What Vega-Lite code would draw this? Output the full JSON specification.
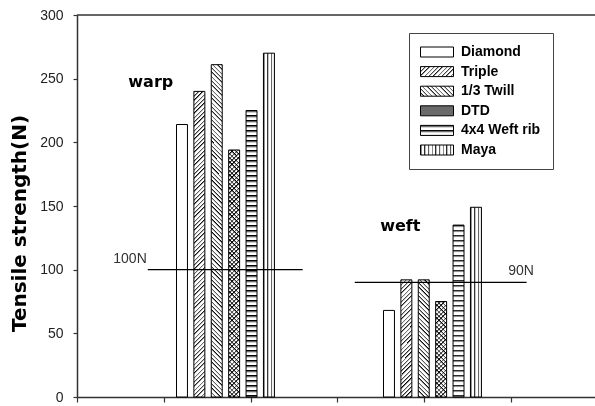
{
  "$schema": "https://vega.github.io/schema/vega-lite/v6.json",
  "width": 518,
  "height": 382,
  "autosize": {"type": "none"},
  "padding": {"left": 77, "top": 15, "right": 0, "bottom": 9},
  "background": "#ffffff",
  "config": {"view": {"stroke": null}, "font": "Liberation Sans"},
  "params": [
    {"name": "S", "value": [
{"offset":0,"color":"#000"},{"offset":0.00625,"color":"#fff"},{"offset":0.0125,"color":"#fff"},
{"offset":0.0125,"color":"#000"},{"offset":0.01875,"color":"#fff"},{"offset":0.025,"color":"#fff"},
{"offset":0.025,"color":"#000"},{"offset":0.03125,"color":"#fff"},{"offset":0.0375,"color":"#fff"},
{"offset":0.0375,"color":"#000"},{"offset":0.04375,"color":"#fff"},{"offset":0.05,"color":"#fff"},
{"offset":0.05,"color":"#000"},{"offset":0.05625,"color":"#fff"},{"offset":0.0625,"color":"#fff"},
{"offset":0.0625,"color":"#000"},{"offset":0.06875,"color":"#fff"},{"offset":0.075,"color":"#fff"},
{"offset":0.075,"color":"#000"},{"offset":0.08125,"color":"#fff"},{"offset":0.0875,"color":"#fff"},
{"offset":0.0875,"color":"#000"},{"offset":0.09375,"color":"#fff"},{"offset":0.1,"color":"#fff"},
{"offset":0.1,"color":"#000"},{"offset":0.10625,"color":"#fff"},{"offset":0.1125,"color":"#fff"},
{"offset":0.1125,"color":"#000"},{"offset":0.11875,"color":"#fff"},{"offset":0.125,"color":"#fff"},
{"offset":0.125,"color":"#000"},{"offset":0.13125,"color":"#fff"},{"offset":0.1375,"color":"#fff"},
{"offset":0.1375,"color":"#000"},{"offset":0.14375,"color":"#fff"},{"offset":0.15,"color":"#fff"},
{"offset":0.15,"color":"#000"},{"offset":0.15625,"color":"#fff"},{"offset":0.1625,"color":"#fff"},
{"offset":0.1625,"color":"#000"},{"offset":0.16875,"color":"#fff"},{"offset":0.175,"color":"#fff"},
{"offset":0.175,"color":"#000"},{"offset":0.18125,"color":"#fff"},{"offset":0.1875,"color":"#fff"},
{"offset":0.1875,"color":"#000"},{"offset":0.19375,"color":"#fff"},{"offset":0.2,"color":"#fff"},
{"offset":0.2,"color":"#000"},{"offset":0.20625,"color":"#fff"},{"offset":0.2125,"color":"#fff"},
{"offset":0.2125,"color":"#000"},{"offset":0.21875,"color":"#fff"},{"offset":0.225,"color":"#fff"},
{"offset":0.225,"color":"#000"},{"offset":0.23125,"color":"#fff"},{"offset":0.2375,"color":"#fff"},
{"offset":0.2375,"color":"#000"},{"offset":0.24375,"color":"#fff"},{"offset":0.25,"color":"#fff"},
{"offset":0.25,"color":"#000"},{"offset":0.25625,"color":"#fff"},{"offset":0.2625,"color":"#fff"},
{"offset":0.2625,"color":"#000"},{"offset":0.26875,"color":"#fff"},{"offset":0.275,"color":"#fff"},
{"offset":0.275,"color":"#000"},{"offset":0.28125,"color":"#fff"},{"offset":0.2875,"color":"#fff"},
{"offset":0.2875,"color":"#000"},{"offset":0.29375,"color":"#fff"},{"offset":0.3,"color":"#fff"},
{"offset":0.3,"color":"#000"},{"offset":0.30625,"color":"#fff"},{"offset":0.3125,"color":"#fff"},
{"offset":0.3125,"color":"#000"},{"offset":0.31875,"color":"#fff"},{"offset":0.325,"color":"#fff"},
{"offset":0.325,"color":"#000"},{"offset":0.33125,"color":"#fff"},{"offset":0.3375,"color":"#fff"},
{"offset":0.3375,"color":"#000"},{"offset":0.34375,"color":"#fff"},{"offset":0.35,"color":"#fff"},
{"offset":0.35,"color":"#000"},{"offset":0.35625,"color":"#fff"},{"offset":0.3625,"color":"#fff"},
{"offset":0.3625,"color":"#000"},{"offset":0.36875,"color":"#fff"},{"offset":0.375,"color":"#fff"},
{"offset":0.375,"color":"#000"},{"offset":0.38125,"color":"#fff"},{"offset":0.3875,"color":"#fff"},
{"offset":0.3875,"color":"#000"},{"offset":0.39375,"color":"#fff"},{"offset":0.4,"color":"#fff"},
{"offset":0.4,"color":"#000"},{"offset":0.40625,"color":"#fff"},{"offset":0.4125,"color":"#fff"},
{"offset":0.4125,"color":"#000"},{"offset":0.41875,"color":"#fff"},{"offset":0.425,"color":"#fff"},
{"offset":0.425,"color":"#000"},{"offset":0.43125,"color":"#fff"},{"offset":0.4375,"color":"#fff"},
{"offset":0.4375,"color":"#000"},{"offset":0.44375,"color":"#fff"},{"offset":0.45,"color":"#fff"},
{"offset":0.45,"color":"#000"},{"offset":0.45625,"color":"#fff"},{"offset":0.4625,"color":"#fff"},
{"offset":0.4625,"color":"#000"},{"offset":0.46875,"color":"#fff"},{"offset":0.475,"color":"#fff"},
{"offset":0.475,"color":"#000"},{"offset":0.48125,"color":"#fff"},{"offset":0.4875,"color":"#fff"},
{"offset":0.4875,"color":"#000"},{"offset":0.49375,"color":"#fff"},{"offset":0.5,"color":"#fff"},
{"offset":0.5,"color":"#000"},{"offset":0.50625,"color":"#fff"},{"offset":0.5125,"color":"#fff"},
{"offset":0.5125,"color":"#000"},{"offset":0.51875,"color":"#fff"},{"offset":0.525,"color":"#fff"},
{"offset":0.525,"color":"#000"},{"offset":0.53125,"color":"#fff"},{"offset":0.5375,"color":"#fff"},
{"offset":0.5375,"color":"#000"},{"offset":0.54375,"color":"#fff"},{"offset":0.55,"color":"#fff"},
{"offset":0.55,"color":"#000"},{"offset":0.55625,"color":"#fff"},{"offset":0.5625,"color":"#fff"},
{"offset":0.5625,"color":"#000"},{"offset":0.56875,"color":"#fff"},{"offset":0.575,"color":"#fff"},
{"offset":0.575,"color":"#000"},{"offset":0.58125,"color":"#fff"},{"offset":0.5875,"color":"#fff"},
{"offset":0.5875,"color":"#000"},{"offset":0.59375,"color":"#fff"},{"offset":0.6,"color":"#fff"},
{"offset":0.6,"color":"#000"},{"offset":0.60625,"color":"#fff"},{"offset":0.6125,"color":"#fff"},
{"offset":0.6125,"color":"#000"},{"offset":0.61875,"color":"#fff"},{"offset":0.625,"color":"#fff"},
{"offset":0.625,"color":"#000"},{"offset":0.63125,"color":"#fff"},{"offset":0.6375,"color":"#fff"},
{"offset":0.6375,"color":"#000"},{"offset":0.64375,"color":"#fff"},{"offset":0.65,"color":"#fff"},
{"offset":0.65,"color":"#000"},{"offset":0.65625,"color":"#fff"},{"offset":0.6625,"color":"#fff"},
{"offset":0.6625,"color":"#000"},{"offset":0.66875,"color":"#fff"},{"offset":0.675,"color":"#fff"},
{"offset":0.675,"color":"#000"},{"offset":0.68125,"color":"#fff"},{"offset":0.6875,"color":"#fff"},
{"offset":0.6875,"color":"#000"},{"offset":0.69375,"color":"#fff"},{"offset":0.7,"color":"#fff"},
{"offset":0.7,"color":"#000"},{"offset":0.70625,"color":"#fff"},{"offset":0.7125,"color":"#fff"},
{"offset":0.7125,"color":"#000"},{"offset":0.71875,"color":"#fff"},{"offset":0.725,"color":"#fff"},
{"offset":0.725,"color":"#000"},{"offset":0.73125,"color":"#fff"},{"offset":0.7375,"color":"#fff"},
{"offset":0.7375,"color":"#000"},{"offset":0.74375,"color":"#fff"},{"offset":0.75,"color":"#fff"},
{"offset":0.75,"color":"#000"},{"offset":0.75625,"color":"#fff"},{"offset":0.7625,"color":"#fff"},
{"offset":0.7625,"color":"#000"},{"offset":0.76875,"color":"#fff"},{"offset":0.775,"color":"#fff"},
{"offset":0.775,"color":"#000"},{"offset":0.78125,"color":"#fff"},{"offset":0.7875,"color":"#fff"},
{"offset":0.7875,"color":"#000"},{"offset":0.79375,"color":"#fff"},{"offset":0.8,"color":"#fff"},
{"offset":0.8,"color":"#000"},{"offset":0.80625,"color":"#fff"},{"offset":0.8125,"color":"#fff"},
{"offset":0.8125,"color":"#000"},{"offset":0.81875,"color":"#fff"},{"offset":0.825,"color":"#fff"},
{"offset":0.825,"color":"#000"},{"offset":0.83125,"color":"#fff"},{"offset":0.8375,"color":"#fff"},
{"offset":0.8375,"color":"#000"},{"offset":0.84375,"color":"#fff"},{"offset":0.85,"color":"#fff"},
{"offset":0.85,"color":"#000"},{"offset":0.85625,"color":"#fff"},{"offset":0.8625,"color":"#fff"},
{"offset":0.8625,"color":"#000"},{"offset":0.86875,"color":"#fff"},{"offset":0.875,"color":"#fff"},
{"offset":0.875,"color":"#000"},{"offset":0.88125,"color":"#fff"},{"offset":0.8875,"color":"#fff"},
{"offset":0.8875,"color":"#000"},{"offset":0.89375,"color":"#fff"},{"offset":0.9,"color":"#fff"},
{"offset":0.9,"color":"#000"},{"offset":0.90625,"color":"#fff"},{"offset":0.9125,"color":"#fff"},
{"offset":0.9125,"color":"#000"},{"offset":0.91875,"color":"#fff"},{"offset":0.925,"color":"#fff"},
{"offset":0.925,"color":"#000"},{"offset":0.93125,"color":"#fff"},{"offset":0.9375,"color":"#fff"},
{"offset":0.9375,"color":"#000"},{"offset":0.94375,"color":"#fff"},{"offset":0.95,"color":"#fff"},
{"offset":0.95,"color":"#000"},{"offset":0.95625,"color":"#fff"},{"offset":0.9625,"color":"#fff"},
{"offset":0.9625,"color":"#000"},{"offset":0.96875,"color":"#fff"},{"offset":0.975,"color":"#fff"},
{"offset":0.975,"color":"#000"},{"offset":0.98125,"color":"#fff"},{"offset":0.9875,"color":"#fff"},
{"offset":0.9875,"color":"#000"},{"offset":0.99375,"color":"#fff"},{"offset":1,"color":"#fff"}
    ]}
  ],
  "datasets": {
    "bars": [
      {"direction": "warp", "pattern": "Diamond", "strength": 214},
      {"direction": "warp", "pattern": "Triple", "strength": 240},
      {"direction": "warp", "pattern": "1/3 Twill", "strength": 261},
      {"direction": "warp", "pattern": "DTD", "strength": 194},
      {"direction": "warp", "pattern": "4x4 Weft rib", "strength": 225},
      {"direction": "warp", "pattern": "Maya", "strength": 270},
      {"direction": "weft", "pattern": "Diamond", "strength": 68},
      {"direction": "weft", "pattern": "Triple", "strength": 92},
      {"direction": "weft", "pattern": "1/3 Twill", "strength": 92},
      {"direction": "weft", "pattern": "DTD", "strength": 75},
      {"direction": "weft", "pattern": "4x4 Weft rib", "strength": 135},
      {"direction": "weft", "pattern": "Maya", "strength": 149}
    ],
    "refs": [
      {"label": "100N", "strength": 100, "start": 0.815, "end": 2.6},
      {"label": "90N", "strength": 90, "start": 3.2, "end": 5.18}
    ]
  },
  "layer": [
    {
      "data": {"name": "bars"},
      "layer": [
        {
          "mark": {
            "type": "bar",
            "strokeWidth": 1,
            "fill": {"expr": "(datum.pattern||datum.value)==='Diamond'?'#fff':(datum.pattern||datum.value)==='Triple'?(datum.strength==null?{gradient:'linear',x1:0,y1:0,x2:9.614,y2:2.913,stops:S}:{gradient:'linear',x1:0,y1:0,x2:3810/(121+pow(1.27333*datum.strength,2)),y2:441.1*datum.strength/(121+pow(1.27333*datum.strength,2)),stops:S}):(datum.pattern||datum.value)==='1/3 Twill'?(datum.strength==null?{gradient:'linear',x1:1,y1:0,x2:-8.614,y2:2.913,stops:S}:{gradient:'linear',x1:1,y1:0,x2:1-3810/(121+pow(1.27333*datum.strength,2)),y2:441.1*datum.strength/(121+pow(1.27333*datum.strength,2)),stops:S}):(datum.pattern||datum.value)==='DTD'?(datum.strength==null?'#6a6a6a':{gradient:'linear',x1:0,y1:0,x2:3810/(121+pow(1.27333*datum.strength,2)),y2:441.1*datum.strength/(121+pow(1.27333*datum.strength,2)),stops:S}):(datum.pattern||datum.value)==='4x4 Weft rib'?{gradient:'linear',x1:0,y1:0,x2:0,y2:(datum.strength==null?40:314.1/datum.strength),stops:S}:{gradient:'linear',x1:0,y1:0,x2:(datum.strength==null?8.897:26.69),y2:0,stops:S}"}
          },
          "encoding": {
            "x": {"field": "direction", "type": "nominal", "scale": {"type": "band", "domain": ["warp", "weft"], "range": [45, 459], "paddingInner": 0, "paddingOuter": 0}, "axis": null},
            "xOffset": {"field": "pattern", "type": "nominal", "scale": {"domain": ["Diamond", "Triple", "1/3 Twill", "DTD", "4x4 Weft rib", "Maya"], "range": [54.5, 152.4], "paddingInner": 0.37, "paddingOuter": 0}},
            "y": {
              "field": "strength", "type": "quantitative",
              "scale": {"domain": [0, 300], "nice": false},
              "axis": {
                "values": [0, 50, 100, 150, 200, 250, 300],
                "grid": false,
                "title": "Tensile strength(N)",
                "titleFont": "DejaVu Sans", "titleFontSize": 20, "titleFontWeight": "bold", "titleColor": "#000",
                "titleX": -57.5, "titleY": 208, "titleAngle": -90, "titleAlign": "center", "titleBaseline": "middle",
                "labelFont": "Liberation Sans", "labelFontSize": 14, "labelColor": "#222", "labelPadding": 10,
                "tickSize": 4, "tickColor": "#333", "tickWidth": 1.2,
                "domainColor": "#333", "domainWidth": 1.5
              }
            },
            "stroke": {
              "field": "pattern", "type": "nominal",
              "scale": {"domain": ["Diamond", "Triple", "1/3 Twill", "DTD", "4x4 Weft rib", "Maya"], "range": ["#000", "#000", "#000", "#000", "#000", "#000"]},
              "legend": {
                "title": null, "orient": "none", "legendX": 332, "legendY": 18,
                "symbolType": "M-3.3,-1H3.3V1H-3.3Z", "symbolSize": 100, "symbolStrokeWidth": 1,
                "symbolOffset": 9, "labelOffset": 17,
                "labelFont": "Liberation Sans", "labelFontSize": 14, "labelFontWeight": "bold", "labelColor": "#000",
                "rowPadding": 5.6, "padding": 12, "strokeColor": "#444", "fillColor": "#fff",
                "encode": {
                  "symbols": {"update": {"strokeWidth": {"value": 1}}},
                  "legend": {"update": {"strokeWidth": {"value": 1.5}}}
                }
              }
            }
          }
        },
        {
          "transform": [{"filter": "datum.pattern==='DTD'"}],
          "mark": {
            "type": "bar",
            "strokeWidth": 0,
            "blend": "multiply",
            "fill": {"expr": "{gradient:'linear',x1:1,y1:0,x2:1-3810/(121+pow(1.27333*datum.strength,2)),y2:441.1*datum.strength/(121+pow(1.27333*datum.strength,2)),stops:S}"}
          },
          "encoding": {
            "x": {"field": "direction", "type": "nominal", "scale": {"type": "band", "domain": ["warp", "weft"], "range": [45, 459], "paddingInner": 0, "paddingOuter": 0}, "axis": null},
            "xOffset": {"field": "pattern", "type": "nominal", "scale": {"domain": ["Diamond", "Triple", "1/3 Twill", "DTD", "4x4 Weft rib", "Maya"], "range": [54.5, 152.4], "paddingInner": 0.37, "paddingOuter": 0}},
            "y": {"field": "strength", "type": "quantitative", "scale": {"domain": [0, 300], "nice": false}}
          }
        }
      ]
    },
    {
      "layer": [
        {
          "data": {"name": "refs"},
          "mark": {"type": "rule", "color": "#000", "strokeWidth": 1.2},
          "encoding": {
            "x": {"field": "start", "type": "quantitative", "scale": {"domain": [0, 5.968], "nice": false, "zero": true},
              "axis": {"values": [0, 1, 2, 3, 4, 5], "labels": false, "title": null, "grid": false, "tickSize": 5, "tickColor": "#333", "tickWidth": 1.2, "domainColor": "#333", "domainWidth": 1.5}},
            "x2": {"field": "end"},
            "y": {"field": "strength", "type": "quantitative", "scale": {"domain": [0, 300], "nice": false}}
          }
        },
        {
          "data": {"name": "refs"},
          "transform": [{"filter": "datum.label==='100N'"}],
          "mark": {"type": "text", "align": "right", "baseline": "alphabetic", "dx": -1, "dy": -7, "font": "Liberation Sans", "fontSize": 14, "color": "#333"},
          "encoding": {
            "x": {"field": "start", "type": "quantitative", "scale": {"domain": [0, 5.968], "nice": false}},
            "y": {"field": "strength", "type": "quantitative", "scale": {"domain": [0, 300], "nice": false}},
            "text": {"field": "label"}
          }
        },
        {
          "data": {"name": "refs"},
          "transform": [{"filter": "datum.label==='90N'"}],
          "mark": {"type": "text", "align": "center", "baseline": "alphabetic", "dx": -5.5, "dy": -7.5, "font": "Liberation Sans", "fontSize": 14, "color": "#333"},
          "encoding": {
            "x": {"field": "end", "type": "quantitative", "scale": {"domain": [0, 5.968], "nice": false}},
            "y": {"field": "strength", "type": "quantitative", "scale": {"domain": [0, 300], "nice": false}},
            "text": {"field": "label"}
          }
        },
        {
          "data": {"values": [{}]},
          "mark": {"type": "rule", "color": "#333", "strokeWidth": 1.5},
          "encoding": {
            "y": {"datum": 300, "type": "quantitative", "scale": {"domain": [0, 300], "nice": false}}
          }
        },
        {
          "data": {"values": [{}]},
          "mark": {"type": "text", "text": "warp", "align": "center", "baseline": "alphabetic", "font": "DejaVu Sans", "fontSize": 16, "fontWeight": "bold", "color": "#000"},
          "encoding": {
            "x": {"datum": 0.85, "type": "quantitative", "scale": {"domain": [0, 5.968], "nice": false}},
            "y": {"datum": 243.5, "type": "quantitative", "scale": {"domain": [0, 300], "nice": false}}
          }
        },
        {
          "data": {"values": [{}]},
          "mark": {"type": "text", "text": "weft", "align": "center", "baseline": "alphabetic", "font": "DejaVu Sans", "fontSize": 16, "fontWeight": "bold", "color": "#000"},
          "encoding": {
            "x": {"datum": 3.725, "type": "quantitative", "scale": {"domain": [0, 5.968], "nice": false}},
            "y": {"datum": 130.6, "type": "quantitative", "scale": {"domain": [0, 300], "nice": false}}
          }
        }
      ]
    }
  ],
  "resolve": {"scale": {"x": "independent"}, "axis": {"x": "independent"}}
}
